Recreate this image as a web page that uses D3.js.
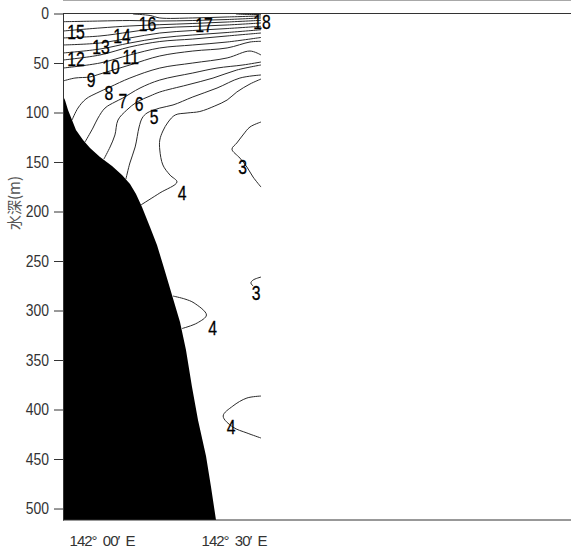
<!DOCTYPE html>
<html>
<head>
<meta charset="utf-8">
<script src="https://cdn.jsdelivr.net/npm/d3@7"></script>
<style>
  body { margin: 0; background: #fff; }
  svg { display: block; }
</style>
</head>
<body>
<svg id="chart" width="571" height="551"></svg>
<script>
// Vertical temperature section (°C): longitude in minutes east of 142°E, depth in m.
const depthTicks = [0, 50, 100, 150, 200, 250, 300, 350, 400, 450, 500];
const lonTicks = [0, 30];
const lonTickLabels = ["142° 00′ E", "142° 30′ E"];

// Sea-floor profile [lon, depth]
const seaFloor = [
  [-9, 83.3], [-8.55, 87.4], [-7.86, 97.5], [-6.95, 107.6], [-6.05, 117.7],
  [-4.45, 127.8], [-2.86, 135.9], [-0.59, 144.9], [2.14, 154.0], [4.41, 163.1],
  [6.23, 172.2], [7.59, 182.3], [8.95, 195.5], [10.77, 215.7], [12.36, 233.8],
  [13.95, 257.1], [15.77, 284.3], [17.59, 311.6], [18.95, 339.9], [20.32, 377.3],
  [21.68, 410.6], [23.5, 447.0], [24.64, 478.3], [25.77, 511.6]
];

// Isotherms [lon, depth]
const iso18 = [[30.3, 0.5], [33.0, 1.0], [36.0, 1.0]];
const iso17 = [[6.9, 0.5], [10.8, 2.0], [13.0, 4.5], [20.5, 4.5], [28.3, 3.5], [36.0, 2.5]];
const iso16 = [[-9, 8.3], [-0.6, 7.6], [6.2, 7.1], [13.0, 7.6], [20.5, 7.1], [28.3, 6.1], [36, 4.5]];
const iso15 = [[-9, 17.7], [-0.6, 14.6], [6.2, 12.6], [13.0, 11.3], [20.5, 10.1], [28.3, 8.6], [36, 6.9]];
const iso14 = [[-9, 24.7], [-0.6, 22.7], [6.2, 18.7], [13.0, 14.6], [20.5, 13.1], [28.3, 11.6], [36, 9.6]];
const iso13 = [[-9, 31.8], [-0.6, 29.8], [6.2, 24.7], [13.0, 19.7], [20.5, 17.2], [28.3, 15.2], [36, 12.9]];
const iso12 = [[-9, 39.9], [-0.6, 35.9], [6.2, 29.8], [13.0, 24.7], [20.5, 21.7], [28.3, 19.2], [36, 16.4]];
const iso11 = [[-9, 47.0], [-0.6, 41.9], [6.2, 33.8], [13.0, 28.3], [20.5, 25.8], [28.3, 22.7], [36, 19.7]];
const iso10 = [[-9, 55.1], [-0.6, 50.0], [6.2, 41.9], [13.0, 34.8], [20.5, 31.8], [28.3, 28.8], [36, 24.2]];
const iso9 = [[-9, 68.2], [-6.3, 65.2], [-2.9, 64.1], [-0.6, 61.1], [6.2, 52.0], [13.0, 42.9],
  [20.5, 37.9], [28.3, 34.8], [33.5, 28.8], [36, 28.1]];
const iso8 = [[-6.95, 107.6], [-5.6, 95.5], [-3.8, 86.4], [-1.3, 80.3], [1.7, 74.2], [6.2, 65.2],
  [13.0, 55.1], [20.5, 50.0], [28.3, 44.9], [33.5, 37.9], [36, 41.9]];
const iso7 = [[-4.0, 129.8], [-2.2, 115.7], [-1.05, 105.6], [0.55, 95.5], [2.8, 89.4], [4.6, 85.4],
  [8.5, 75.3], [13.0, 67.2], [20.5, 60.1], [26.0, 55.1], [31.9, 52.0], [36, 49.0]];
const iso6 = [[0.3, 147.0], [1.7, 134.8], [2.8, 122.7], [3.5, 107.6], [5.5, 97.5], [7.8, 89.4],
  [10.8, 83.3], [13.0, 79.3], [19.2, 72.2], [25.1, 65.2], [30.5, 57.1], [36, 52.0]];
const iso5 = [[5.3, 167.2], [6.2, 151.0], [7.4, 134.8], [8.3, 114.6], [9.0, 105.6], [10.1, 100.5],
  [13.0, 95.5], [16.0, 92.4], [20.5, 84.3], [26.0, 75.3], [31.2, 65.2], [36, 62.1]];
const iso4 = [[8.7, 193.4], [13.0, 181.3], [16.9, 170.2], [15.3, 163.1], [13.7, 153.0], [13.0, 137.9],
  [13.0, 127.8], [13.7, 118.7], [14.9, 109.6], [16.5, 102.5], [19.2, 100.5], [22.1, 99.0],
  [25.5, 93.4], [28.3, 87.4], [30.5, 79.3], [33.5, 71.2], [36, 66.2]];
const iso3a = [[36, 109.6], [33.5, 114.6], [31.9, 122.7], [30.5, 130.8], [29.4, 137.0], [31.2, 146.0],
  [32.8, 155.1], [34.2, 165.2], [36, 175.3]];
const iso3b = [[36, 266.2], [34.2, 269.2], [33.7, 272.2], [34.2, 275.3]];
const iso4b = [[16.0, 285.4], [18.7, 288.4], [20.8, 292.4], [23.6, 304.5], [21.5, 312.6], [18.05, 318.2]];
const iso4c = [[36, 386.4], [32.8, 388.4], [29.6, 396.5], [27.4, 406.6], [29.6, 417.7], [32.8, 423.7], [36, 428.8]];

const isotherms = [iso18, iso17, iso16, iso15, iso14, iso13, iso12, iso11, iso10, iso9,
  iso8, iso7, iso6, iso5, iso4, iso3a, iso3b, iso4b, iso4c];

// Isotherm labels [value, lon, depth]
const contourLabels = [
  [18, 36.2, 8.1], [17, 23.05, 11.1], [16, 10.2, 9.6], [15, -6.05, 18.0], [14, 4.4, 22.2],
  [13, -0.36, 33.1], [12, -6.05, 44.9], [11, 6.4, 43.4], [10, 1.9, 53.5], [9, -2.6, 66.2],
  [8, 1.45, 79.8], [7, 4.6, 87.4], [6, 8.3, 90.4], [5, 11.7, 103.5], [4, 18.05, 180.8],
  [3, 31.8, 154.0], [3, 34.9, 281.8], [4, 25.0, 317.2], [4, 29.2, 417.2]
];

const svg = d3.select("#chart");
const plotLeft = 63, plotRight = 571, plotTop = 13.5, plotBottom = 520;

const x = d3.scaleLinear().domain([-9, 106.45]).range([plotLeft, plotRight]);
const y = d3.scaleLinear().domain([0, 511.6]).range([plotTop, plotBottom]);

svg.append("rect").attr("width", 571).attr("height", 551).attr("fill", "#fff");

// thin rule along the top of the figure
svg.append("line")
  .attr("x1", plotLeft).attr("x2", plotRight).attr("y1", 0.5).attr("y2", 0.5)
  .attr("stroke", "#a8a8a8").attr("stroke-width", 1);

// isotherms
const line = d3.line()
  .x(d => x(d[0])).y(d => y(d[1]))
  .curve(d3.curveCatmullRom.alpha(0.5));

svg.append("g")
  .selectAll("path")
  .data(isotherms)
  .join("path")
  .attr("d", line)
  .attr("fill", "none")
  .attr("stroke", "#2a2a2a")
  .attr("stroke-width", 1);

// sea floor
const floorPoly = seaFloor.concat([[-9, 511.6]]);
svg.append("path")
  .attr("d", d3.line().x(d => x(d[0])).y(d => y(d[1]))(floorPoly) + "Z")
  .attr("fill", "#000");

// isotherm labels
svg.append("g")
  .selectAll("text")
  .data(contourLabels)
  .join("text")
  .attr("transform", d => `translate(${x(d[1])},${y(d[2])}) scale(0.75,1)`)
  .attr("text-anchor", "middle")
  .attr("dy", "0.36em")
  .attr("font-family", "Liberation Sans, Arial, sans-serif")
  .attr("font-size", 21)
  .attr("fill", "#000")
  .attr("stroke", "#000")
  .attr("stroke-width", 0.3)
  .text(d => d[0]);

// frame
svg.append("line").attr("x1", plotLeft).attr("x2", plotRight).attr("y1", plotTop).attr("y2", plotTop)
  .attr("stroke", "#333").attr("stroke-width", 1);
svg.append("line").attr("x1", plotLeft).attr("x2", plotRight).attr("y1", plotBottom).attr("y2", plotBottom)
  .attr("stroke", "#333").attr("stroke-width", 1);

// depth axis
const yAxis = d3.axisLeft(y).tickValues(depthTicks).tickSize(9).tickSizeOuter(0).tickPadding(5);
const gy = svg.append("g").attr("transform", `translate(${plotLeft},0)`).call(yAxis);
gy.select(".domain").attr("stroke", "#333");
gy.selectAll(".tick line").attr("stroke", "#333");
gy.selectAll(".tick text")
  .attr("font-family", "Liberation Sans, Arial, sans-serif")
  .attr("font-size", 16)
  .attr("fill", "#333")
  .attr("x", -14 / 0.87)
  .attr("transform", "scale(0.87,1)");

// depth axis title
svg.append("text")
  .attr("transform", "translate(15,203) rotate(-90)")
  .attr("text-anchor", "middle")
  .attr("dy", "0.35em")
  .attr("font-family", "Noto Sans CJK JP, sans-serif")
  .attr("font-size", 15)
  .attr("fill", "#555")
  .text("水深(m)");

// longitude labels
svg.append("g")
  .selectAll("text")
  .data(lonTicks)
  .join("text")
  .attr("x", d => x(d))
  .attr("y", 541)
  .attr("dy", "0.35em")
  .attr("text-anchor", "middle")
  .attr("font-family", "Liberation Sans, Arial, sans-serif")
  .attr("font-size", 15)
  .attr("fill", "#333")
  .attr("textLength", 66)
  .attr("lengthAdjust", "spacing")
  .attr("style", "white-space: pre")
  .text((d, i) => lonTickLabels[i].replace(/ /g, "  "));
</script>
</body>
</html>
